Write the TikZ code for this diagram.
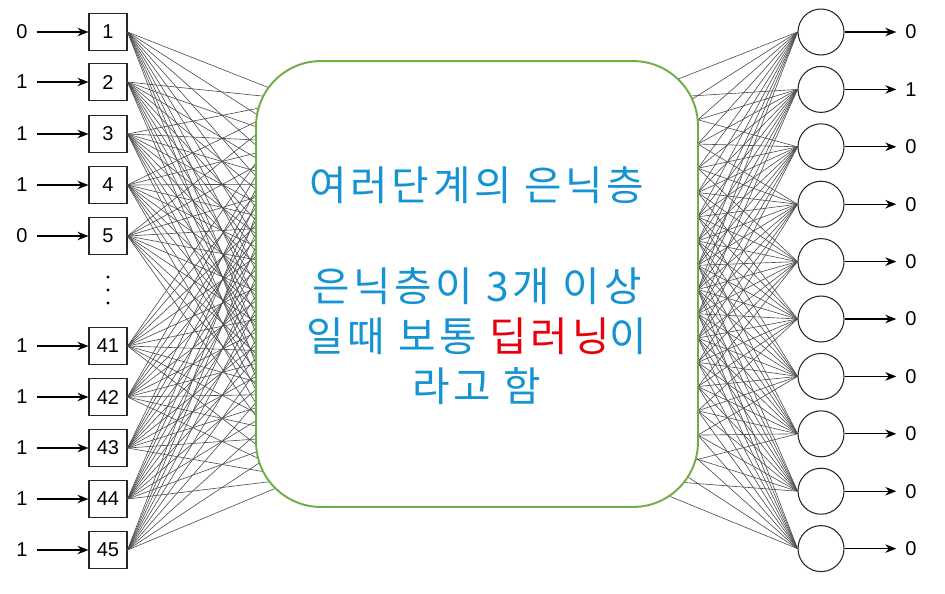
\documentclass[tikz,border=0pt]{standalone}
\usepackage{fontspec}
\setmainfont{Liberation Sans}
\newfontfamily\krfont[LetterSpace=9]{Noto Sans CJK KR}
\usetikzlibrary{arrows.meta,positioning}
\definecolor{layergreen}{HTML}{70AD47}
\definecolor{hiddenblue}{HTML}{1593D3}
\definecolor{deepred}{HTML}{E8000B}
\tikzset{
  inbox/.style={draw=black!85, line width=0.6pt, minimum width=0.76cm, minimum height=0.74cm, inner sep=0pt, font=\fontsize{11.4}{13}\selectfont},
  outcell/.style={circle, draw=black!85, line width=0.6pt, minimum size=0.92cm, inner sep=0pt},
  val/.style={inner sep=0pt, font=\fontsize{11.4}{13}\selectfont},
  feed/.style={-{Stealth[length=2.2mm,width=1.7mm]}, line width=0.6pt},
  wire/.style={draw=black!70, line width=0.35pt},
  hiddenlayer/.style={draw=layergreen, line width=1.1pt, fill=white, rounded corners=1.3cm, minimum width=8.84cm, minimum height=8.92cm},
  krtext/.style={font=\krfont\fontsize{23.2}{28.4}\selectfont, text=hiddenblue, align=center}
}

\begin{document}
\begin{tikzpicture}[x=0.02cm,y=-0.02cm]
\useasboundingbox (0,0) rectangle (945,593);

% input layer
\foreach \n/\y/\v in {1/32/0, 2/82/1, 3/134/1, 4/185/1, 5/236/0, 41/346/1, 42/397/1, 43/448/1, 44/499/1, 45/550/1} {
  \node[inbox] (in-\n) at (108,\y) {\n};
  \node[val] (x-\n) at (22,\y) {\v};
  \draw[feed, shorten <=5pt] (x-\n) -- (in-\n);
}
\foreach \d in {277,290,303}
  \fill (108,\d) circle (1.6);

% hidden layers (covered by the box)
\foreach \j in {0,...,9} {
  \coordinate (hl-\j) at (300,{100+42*\j});
  \coordinate (hr-\j) at (625,{100+42*\j});
}
\foreach \n in {1,2,3,4,5,41,42,43,44,45}
  \foreach \j in {0,...,9}
    \draw[wire] (in-\n.east) -- (hl-\j);

% output layer
\foreach \k/\v in {0/0, 1/1, 2/0, 3/0, 4/0, 5/0, 6/0, 7/0, 8/0, 9/0} {
  \node[outcell] (out-\k) at (821,{32+57.4*\k}) {};
  \node[val] (y-\k) at (911,{32+57.4*\k}) {\v};
  \draw[feed, shorten >=5pt] (out-\k) -- (y-\k);
  \foreach \j in {0,...,9}
    \draw[wire] (hr-\j) -- (out-\k.west);
}

\node[hiddenlayer] (deep) at (477,284) {};
\node[krtext] (title) at (477,185) {여러단계의 은닉층};
\node[krtext] (note) at (477,336) {은닉층이 3개 이상\\일때 보통 \textcolor{deepred}{딥러닝}이\\라고 함};
\end{tikzpicture}
\end{document}
